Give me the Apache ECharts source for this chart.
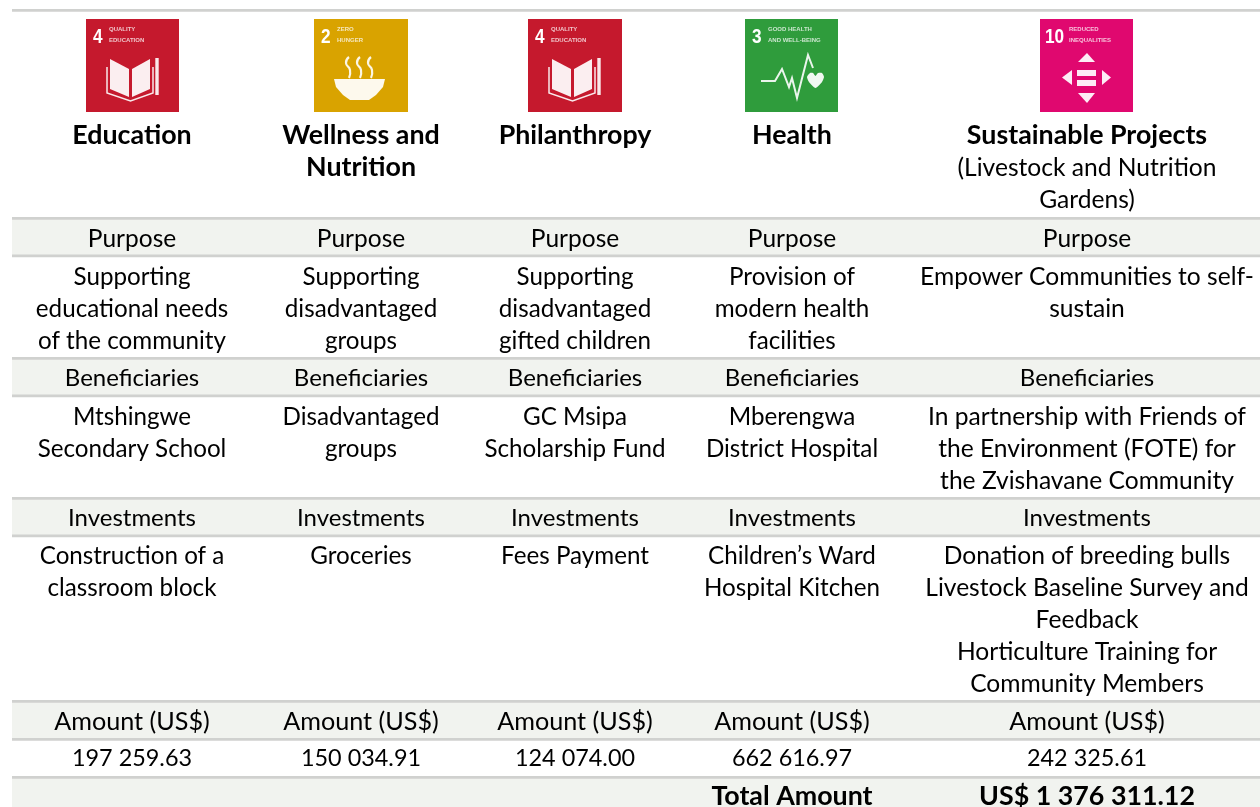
<!DOCTYPE html>
<html>
<head>
<meta charset="utf-8">
<title>Social investment table</title>
<style>
html, body { margin: 0; padding: 0; background: #fff; }
#main { width: 1260px; height: 807px; }
</style>
<script src="https://cdn.jsdelivr.net/npm/echarts@6/dist/echarts.min.js"></script>
</head>
<body>
<div id="main"></div>
<script>
// table content
var titles = ['Education', 'Wellness and\nNutrition', 'Philanthropy', 'Health', 'Sustainable Projects'];
var subtitles = ['', '', '', '', '(Livestock and Nutrition\nGardens)'];
var purposes = [
    'Supporting\neducational needs\nof the community',
    'Supporting\ndisadvantaged\ngroups',
    'Supporting\ndisadvantaged\ngifted children',
    'Provision of\nmodern health\nfacilities',
    'Empower Communities to self-\nsustain'
];
var beneficiaries = [
    'Mtshingwe\nSecondary School',
    'Disadvantaged\ngroups',
    'GC Msipa\nScholarship Fund',
    'Mberengwa\nDistrict Hospital',
    'In partnership with Friends of\nthe Environment (FOTE) for\nthe Zvishavane Community'
];
var investments = [
    'Construction of a\nclassroom block',
    'Groceries',
    'Fees Payment',
    'Children\u2019s Ward\nHospital Kitchen',
    'Donation of breeding bulls\nLivestock Baseline Survey and\nFeedback\nHorticulture Training for\nCommunity Members'
];
var amounts = ['197 259.63', '150 034.91', '124 074.00', '662 616.97', '242 325.61'];
var totalLabel = 'Total Amount';
var totalValue = 'US$ 1 376 311.12';
var sectionLabels = ['Purpose', 'Beneficiaries', 'Investments', 'Amount (US$)'];

// goal tiles
var tileNumbers = ['4', '2', '4', '3', '10'];
var tileCaptions = ['QUALITY\nEDUCATION', 'ZERO\nHUNGER', 'QUALITY\nEDUCATION', 'GOOD HEALTH\nAND WELL-BEING', 'REDUCED\nINEQUALITIES'];
var tileIcons = ['book', 'bowl', 'book', 'pulse', 'arrows'];

// layout, in page pixels
var columnCentres = [132, 361, 575, 792, 1087];
var tileLefts = [86, 314, 528, 745, 1040];
var tileWidths = [93, 94, 94, 93, 93];
var tileColours = ['#c5192d', '#d9a300', '#c5192d', '#2f9c3c', '#e0086f'];
var bandSpans = [[218, 256], [358, 396], [498, 536], [701, 739], [777, 807]];
var ruleTops = [9, 217, 254.5, 357, 394.5, 497, 534.5, 700, 738, 776];
var LEFT = 12, RIGHT = 1260, LINE = 32;
var FONT = 'Lato, "Noto Sans", sans-serif';
var TITLE_SIZE = 26.8;
var sectionSizes = [24.5, 24, 24, 25.2];

function bodySize(col) {
    return col == 4 ? 24.6 : 24.2;
}

var cells = [];
function addCells(list, y, bold, size) {
    list.forEach(function (text, i) {
        if (!text) return;
        text.split('\n').forEach(function (line, k) {
            cells.push({x: columnCentres[i], y: y + k * LINE + (bold ? 0 : 0.7), text: line, bold: bold, size: size || bodySize(i)});
        });
    });
}
addCells(titles, 135, true, TITLE_SIZE);
addCells(subtitles, 167, false);
[238, 378, 518, 721].forEach(function (y, s) {
    addCells(columnCentres.map(function () { return sectionLabels[s]; }), y, false, sectionSizes[s]);
});
addCells(purposes, 276, false);
addCells(beneficiaries, 416, false);
addCells(investments, 555, false);
addCells(amounts, 758, false, 23.4);
addCells(['', '', '', totalLabel, totalValue], 796, true, TITLE_SIZE);

// icon shapes, relative to the tile corner
function iconShapes(kind) {
    var out = [];
    function poly(p, smooth) { out.push({type: 'polygon', shape: {points: p, smooth: smooth || 0}}); }
    function stroke(p, w, smooth) { out.push({type: 'polyline', shape: {points: p, smooth: smooth || 0}, w: w}); }
    if (kind == 'book') {
        poly([[24, 40], [43, 50], [43, 78], [24, 70]]);
        poly([[46, 50], [64, 40], [64, 70], [46, 78]]);
        stroke([[21, 48], [21, 74], [44.5, 82], [67, 74], [67, 48]], 1.5);
        stroke([[71, 39], [71, 76]], 3.4);
    } else if (kind == 'bowl') {
        poly([[20, 60], [71, 60], [69, 68], [62, 76], [55, 81], [36, 81], [29, 76], [22, 68]]);
        [34, 45, 56].forEach(function (x) {
            stroke([[x + 1, 38], [x - 2, 44], [x + 2, 51], [x + 1, 59]], 2.2, 0.6);
        });
    } else if (kind == 'pulse') {
        stroke([[16, 62], [30, 62], [37, 50], [44, 68], [47, 59], [52, 79], [63, 36], [68, 49]], 2);
        poly([[62, 58], [65, 54], [68, 54], [70.5, 57], [73, 54], [77, 54], [79, 58], [77, 63], [70.5, 69], [64, 63]], 0.2);
    } else {
        poly([[47, 34], [55, 43], [38, 43]]);
        poly([[47, 84], [55, 74], [38, 74]]);
        poly([[22, 58.5], [32, 51], [32, 66]]);
        poly([[71, 58.5], [62, 51], [62, 66]]);
        poly([[37, 51], [56, 51], [56, 57], [37, 57]]);
        poly([[37, 61], [56, 61], [56, 67], [37, 67]]);
    }
    return out;
}

function renderBand(params, api) {
    var a = api.coord([LEFT, api.value(0)]);
    var b = api.coord([RIGHT, api.value(1)]);
    return {type: 'rect', shape: {x: a[0], y: a[1], width: b[0] - a[0], height: b[1] - a[1]}, style: {fill: '#f1f3ef'}};
}

function renderRule(params, api) {
    var a = api.coord([LEFT, api.value(0)]);
    var b = api.coord([RIGHT, api.value(0)]);
    return {type: 'rect', shape: {x: a[0], y: a[1], width: b[0] - a[0], height: 2.8}, style: {fill: '#d0d1cf'}};
}

function renderCell(params, api) {
    var c = cells[params.dataIndex];
    var p = api.coord([c.x, c.y]);
    return {
        type: 'text',
        style: {
            x: p[0], y: p[1], text: c.text, align: 'center', verticalAlign: 'middle',
            fill: '#000', font: (c.bold ? 'bold ' : '') + c.size + 'px ' + FONT
        }
    };
}

function renderTile(params, api) {
    var i = params.dataIndex;
    var o = api.coord([tileLefts[i], 19]);
    var kids = [{type: 'rect', shape: {x: 0, y: 0, width: tileWidths[i], height: 93}, style: {fill: tileColours[i]}}];
    iconShapes(tileIcons[i]).forEach(function (s) {
        if (s.type == 'polygon') {
            kids.push({type: 'polygon', shape: s.shape, style: {fill: '#fff', opacity: 0.93}});
        } else {
            kids.push({type: 'polyline', shape: s.shape, style: {stroke: '#fff', fill: null, lineWidth: s.w, opacity: 0.9}});
        }
    });
    var big = tileNumbers[i];
    kids.push({type: 'text', x: big.length > 1 ? 5 : 7, y: 18, scaleX: 0.82, style: {
        x: 0, y: 0, text: big, fill: '#fff', verticalAlign: 'middle',
        font: 'bold 21px "Liberation Sans", sans-serif'
    }});
    kids.push({type: 'text', style: {
        x: big.length > 1 ? 29 : 23, y: 16, text: tileCaptions[i], fill: '#fff', opacity: 0.75, verticalAlign: 'middle',
        lineHeight: 10.5, font: 'bold 6px "Liberation Sans", sans-serif'
    }});
    return {type: 'group', x: o[0], y: o[1], children: kids};
}

var myChart = echarts.init(document.getElementById('main'), null, {renderer: 'canvas'});
var option = {
    animation: false,
    backgroundColor: '#fff',
    grid: {left: 0, right: 0, top: 0, bottom: 0},
    xAxis: {type: 'value', min: 0, max: 1260, show: false},
    yAxis: {type: 'value', min: 0, max: 807, inverse: true, show: false},
    tooltip: {show: false},
    series: [
        {type: 'custom', name: 'bands', coordinateSystem: 'cartesian2d', renderItem: renderBand, data: bandSpans, encode: {y: [0, 1]}, silent: true, z: 1},
        {type: 'custom', name: 'rules', coordinateSystem: 'cartesian2d', renderItem: renderRule, data: ruleTops.map(function (y) { return [y]; }), encode: {y: 0}, silent: true, z: 2},
        {type: 'custom', name: 'tiles', coordinateSystem: 'cartesian2d', renderItem: renderTile, data: tileLefts.map(function (x) { return [x, 19]; }), encode: {x: 0, y: 1}, silent: true, z: 3},
        {type: 'custom', name: 'cells', coordinateSystem: 'cartesian2d', renderItem: renderCell, data: cells.map(function (c) { return [c.x, c.y]; }), encode: {x: 0, y: 1}, silent: true, z: 4}
    ]
};
myChart.setOption(option);
</script>
</body>
</html>
